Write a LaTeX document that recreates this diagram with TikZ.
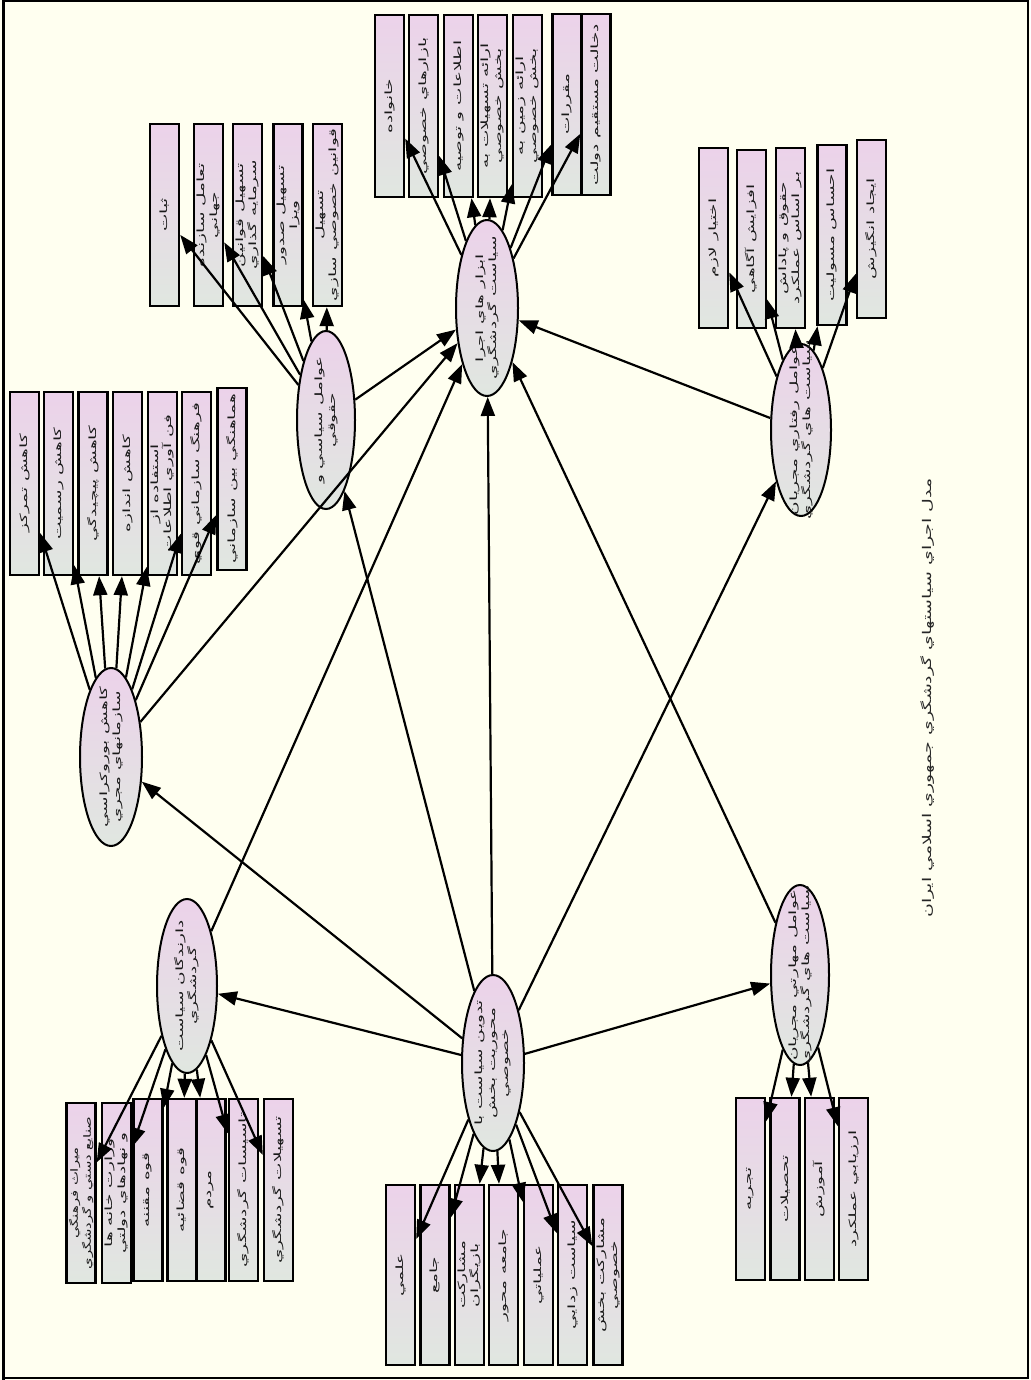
\documentclass[tikz,border=0pt]{standalone}
\usepackage{fontspec}
\usetikzlibrary{shapes.geometric,arrows.meta}
\newfontfamily\arabicfont[Script=Arabic]{DejaVu Sans}
\TeXXeTstate=1
\definecolor{bgcol}{RGB}{255,255,240}
\definecolor{pinktop}{RGB}{236,210,234}
\definecolor{graybot}{RGB}{224,231,224}
\newcommand\rl[1]{\beginR #1\endR}
\tikzset{
  boxnode/.style={rectangle, draw=black, line width=2.4pt, top color=pinktop, bottom color=graybot, minimum width=29pt, inner sep=0pt},
  ellnode/.style={ellipse, draw=black, line width=2pt, top color=pinktop, bottom color=graybot, inner sep=0pt},
  txt/.style={rotate=90, xscale=1.85, align=center, inner sep=0pt, text=black!90, font=\arabicfont\fontsize{10}{13}\selectfont},
  arr/.style={-{Triangle[length=19pt,width=14pt]}, line width=2.2pt, draw=black}
}
% box: name, position, height, text
\newcommand\bx[4]{\node[boxnode, minimum height=#3pt] (#1) at (#2) {}; \node[txt] (#1t) at (#1) {#4};}
% ellipse: name, position, width, height, text
\newcommand\el[5]{\node[ellnode, minimum width=#3pt, minimum height=#4pt] (#1) at (#2) {}; \node[txt] (#1t) at (#1) {#5};}
\begin{document}
\begin{tikzpicture}[x=1pt,y=-1pt]
\useasboundingbox (0,0) rectangle (1030,1380);
\fill[bgcol] (0,0) rectangle (1030,1380);
\draw[line width=1.5pt] (3,1) rectangle (1028,1378);
\draw[line width=3pt] (3,0) -- (3,1380);

% ellipses
\el{abzar}{487,308}{62}{176}{\rl{ابزار هاي اجرا}\\\rl{سياست گردشگري}}
\el{siasi}{326,420}{58}{178}{\rl{عوامل سياسي و}\\\rl{حقوقي}}
\el{kahesh}{111,757}{62}{178}{\rl{کاهش بوروکراسي}\\\rl{سازمانهاي مجري}}
\el{raftari}{801,430}{60}{172}{\rl{عوامل رفتاري مجريان}\\\rl{سياست هاي گردشگري}}
\el{darandegan}{187,986}{60}{174}{\rl{دارندگان سياست}\\\rl{گردشگري}}
\el{tadvin}{493,1063}{62}{176}{\rl{تدوين سياست با}\\\rl{محوريت بخش}\\\rl{خصوصي}}
\el{maharati}{800,975}{58}{180}{\rl{عوامل مهارتي مجريان}\\\rl{سياست هاي گردشگري}}

% abzar boxes
\bx{a1}{389.5,106}{182}{\rl{خانواده}}
\bx{a2}{423.5,106}{182}{\rl{بازارهاي خصوصي}}
\bx{a3}{458.5,106}{182}{\rl{اطلاعات و توصيه}}
\bx{a4}{492.5,106}{182}{\rl{ارائه تسهيلات به}\\\rl{بخش خصوصي}}
\bx{a5}{527.5,106}{182}{\rl{ارائه زمين به}\\\rl{بخش خصوصي}}
\bx{a6}{567,104.5}{181}{\rl{مقررات}}
\bx{a7}{596,104.5}{181}{\rl{دخالت مستقيم دولت}}

% siasi boxes
\bx{s1}{164.5,215}{182}{\rl{ثبات}}
\bx{s2}{208.5,215}{182}{\rl{تعامل سازنده}\\\rl{جهاني}}
\bx{s3}{247.5,215}{182}{\rl{تسهيل قوانين}\\\rl{سرمايه گذاري}}
\bx{s4}{288,215}{182}{\rl{تسهيل صدور}\\\rl{ويزا}}
\bx{s5}{327.5,215}{182}{\rl{تسهيل}\\\rl{قوانين خصوصي سازي}}

% kahesh boxes
\bx{k1}{24.5,483.5}{183}{\rl{کاهش تمرکز}}
\bx{k2}{58.5,483.5}{183}{\rl{کاهش رسميت}}
\bx{k3}{93,483.5}{183}{\rl{کاهش پيچيدگي}}
\bx{k4}{127.5,483.5}{183}{\rl{کاهش اندازه}}
\bx{k5}{162.5,483.5}{183}{\rl{استفاده از}\\\rl{فن آوري اطلاعات}}
\bx{k6}{196.5,483.5}{183}{\rl{فرهنگ سازماني قوي}}
\bx{k7}{232,479}{182}{\rl{هماهنگي بين سازماني}}

% raftari boxes
\bx{r1}{713.5,238}{180}{\rl{اختيار لازم}}
\bx{r2}{751.5,239}{178}{\rl{افزايش آگاهي}}
\bx{r3}{790.5,238}{180}{\rl{حقوق و پاداش}\\\rl{بر اساس عملکرد}}
\bx{r4}{832,235}{180}{\rl{احساس مسوليت}}
\bx{r5}{871.5,229}{178}{\rl{ايجاد انگيزش}}

% darandegan boxes
\node[boxnode, minimum height=180pt] (d1) at (81,1193) {};
\node[txt, xscale=0.8] (d1t) at (d1) {\rl{ميراث فرهنگي}\\\rl{صنايع دستي و گردشگري}};
\bx{d2}{116.5,1193}{180}{\rl{وزارت خانه ها}\\\rl{و نهادهاي دولتي}}
\bx{d3}{148,1190}{182}{\rl{قوه مقننه}}
\bx{d4}{182,1190}{182}{\rl{قوه قضائيه}}
\bx{d5}{211,1190}{182}{\rl{مردم}}
\bx{d6}{243.5,1190}{182}{\rl{تاسيسات گردشگري}}
\bx{d7}{278.5,1190}{182}{\rl{تسهيلات گردشگري}}

% tadvin boxes
\bx{t1}{400.5,1275}{180}{\rl{علمي}}
\bx{t2}{435,1275}{180}{\rl{جامع}}
\bx{t3}{469.5,1275}{180}{\rl{مشارکت}\\\rl{بازيگران}}
\bx{t4}{503.5,1275}{180}{\rl{جامعه محور}}
\bx{t5}{538.5,1275}{180}{\rl{عملياتي}}
\bx{t6}{572.5,1275}{180}{\rl{سياست زدايي}}
\bx{t7}{608,1275}{180}{\rl{مشارکت بخش}\\\rl{خصوصي}}

% maharati boxes
\bx{m1}{750.5,1189}{182}{\rl{تجربه}}
\bx{m2}{785,1189}{182}{\rl{تحصيلات}}
\bx{m3}{819.5,1189}{182}{\rl{آموزش}}
\bx{m4}{853.5,1189}{182}{\rl{ارزيابي عملکرد}}

% title
\node[rotate=90, xscale=1.58, inner sep=0pt, text=black!85] (title) at (928,698) {\arabicfont\fontsize{12}{14}\selectfont\rl{مدل اجراي سياستهاي گردشگري جمهوري اسلامي ايران}};

% edges
\foreach \b in {a1,a2,a3,a4,a5,a6,a7} \draw[arr] (abzar) -- (\b);
\foreach \b in {s1,s2,s3,s4,s5} \draw[arr] (siasi) -- (\b);
\foreach \b in {k1,k2,k3,k4,k5,k6,k7} \draw[arr] (kahesh) -- (\b);
\foreach \b in {r1,r2,r3,r4,r5} \draw[arr] (raftari) -- (\b);
\foreach \b in {d1,d2,d3,d4,d5,d6,d7} \draw[arr] (darandegan) -- (\b);
\foreach \b in {t1,t2,t3,t4,t5,t6,t7} \draw[arr] (tadvin) -- (\b);
\foreach \b in {m1,m2,m3,m4} \draw[arr] (maharati) -- (\b);
\foreach \e in {darandegan,kahesh,maharati,abzar,siasi,raftari} \draw[arr] (tadvin) -- (\e);
\foreach \e in {darandegan,kahesh,siasi,raftari,maharati} \draw[arr] (\e) -- (abzar);
\end{tikzpicture}
\end{document}
